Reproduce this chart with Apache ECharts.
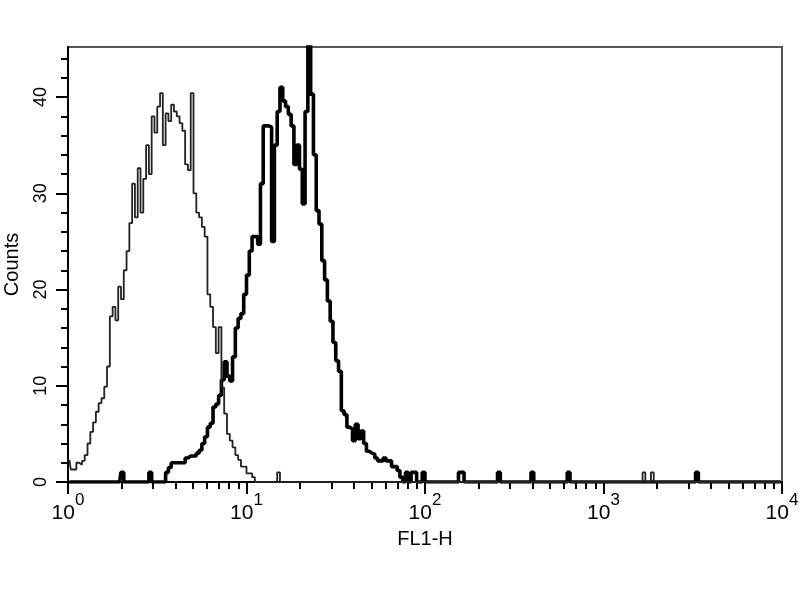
<!DOCTYPE html>
<html>
<head>
<meta charset="utf-8">
<script src="https://cdn.jsdelivr.net/npm/echarts@6/dist/echarts.min.js"></script>
<style>
html,body{margin:0;padding:0;background:#fff;}
#chart{width:800px;height:600px;}
</style>
</head>
<body>
<div id="chart"></div>
<script>
// ---- data (FL1-H histogram, 64 channels per decade, 4 decades) ----
const binsPerDecade = 64;
const nChannels = 256;
const xTickValues = [1, 10, 100, 1000, 10000];
const yTickValues = [0, 10, 20, 30, 40];
const xAxisName = 'FL1-H';
const yAxisName = 'Counts';

// thin curve (control), channels 0..66
const isoCounts = [
  2.3, 1.3, 1.3, 2.0, 1.8, 2.2, 2.8, 4.0, 5.2, 6.2,
  7.3, 8.2, 8.7, 9.9, 12.0, 17.2, 18.2, 16.8, 20.3, 19.0,
  22.0, 24.0, 26.9, 31.0, 27.5, 32.6, 28.0, 31.5, 35.0, 32.0,
  38.0, 36.3, 39.0, 40.4, 35.0, 38.3, 37.5, 39.2, 38.5, 38.0,
  37.3, 36.5, 33.0, 32.4, 40.4, 30.0, 28.0, 27.5, 26.5, 25.5,
  19.5, 18.2, 16.1, 13.4, 16.1, 9.8, 7.1, 5.0, 4.3, 3.6,
  2.8, 2.3, 1.6, 1.6, 0.9, 0.9, 0.5
];
const isoEvents = [[75, 1], [206, 1], [209, 1]];

// thick curve (stained), channels 35..119
const abStartChannel = 35;
const abCounts = [
  1.0, 1.5, 2.0, 2.0, 2.0, 2.0, 2.0, 2.5, 2.7, 2.7,
  2.7, 3.0, 3.3, 4.0, 4.7, 5.7, 6.1, 7.8, 8.1, 9.0,
  10.6, 12.5, 11.0, 10.5, 13.0, 16.0, 17.0, 17.5, 19.5, 21.5,
  24.0, 25.5, 25.5, 24.7, 31.0, 37.0, 37.0, 36.9, 25.0, 35.0,
  38.5, 41.0, 39.6, 39.0, 38.2, 37.0, 33.0, 35.0, 32.5, 28.9,
  38.5, 46.0, 40.3, 34.0, 28.2, 26.8, 23.0, 21.0, 18.8, 16.7,
  14.5, 12.6, 11.5, 7.4, 7.0, 5.7, 5.5, 4.3, 6.0, 4.5,
  5.3, 4.0, 3.2, 3.0, 2.9, 2.5, 2.2, 2.2, 2.5, 2.2,
  2.2, 1.6, 1.6, 1.2, 0.5
];
const abEvents = [[19, 1], [29, 1], [121, 1], [123, 1], [124, 1], [127, 1],
  [140, 1], [141, 1], [154, 1], [166, 1], [179, 1], [225, 1]];

// ---- build series data from the arrays ----
function channelValue(ch) { return Math.pow(10, (ch + 0.5) / binsPerDecade); }
function buildSeries(startCh, counts, events) {
  const arr = new Array(nChannels).fill(0);
  counts.forEach((c, i) => { arr[startCh + i] = c; });
  events.forEach(e => { arr[e[0]] = e[1]; });
  return arr.map((c, ch) => [channelValue(ch), c]);
}
const isoData = buildSeries(0, isoCounts, isoEvents);
const abData = buildSeries(abStartChannel, abCounts, abEvents);

// minor tick positions (axis decoration)
const xMinorTicks = [];
for (let d = 0; d < 4; d++) for (let k = 2; k <= 9; k++) xMinorTicks.push(k * Math.pow(10, d));
const yMinorTicks = [];
for (let v = 2; v <= 44; v += 2) if (v % 10 !== 0) yMinorTicks.push(v);

const FONT = "'Liberation Sans', Arial, Helvetica, sans-serif";
const chart = echarts.init(document.getElementById('chart'), null, {renderer: 'canvas'});

const yMax = 45.2;
chart.setOption({
  animation: false,
  backgroundColor: '#fff',
  grid: {left: 68, right: 18, top: 47, bottom: 118, containLabel: false, outerBoundsMode: 'none',
    show: true, borderColor: '#555', borderWidth: 2, backgroundColor: 'transparent'},
  xAxis: [{
    type: 'log', logBase: 10, min: 1, max: 10000,
    name: xAxisName, nameLocation: 'middle', nameGap: 47, nameMoveOverlap: false,
    nameTextStyle: {fontFamily: FONT, fontSize: 20, color: '#000'},
    axisLine: {show: true, onZero: false, lineStyle: {color: '#000', width: 2}},
    axisTick: {show: true, length: 12, customValues: xTickValues, lineStyle: {color: '#000', width: 2}},
    axisLabel: {
      show: true, margin: 10, customValues: xTickValues,
      formatter: function (v) { return '{b|10}{s|' + Math.round(Math.log10(v)) + '}'; },
      rich: {
        b: {fontFamily: FONT, fontSize: 21, color: '#000', verticalAlign: 'bottom', lineHeight: 32},
        s: {fontFamily: FONT, fontSize: 17, color: '#000', verticalAlign: 'top', lineHeight: 17}
      }
    },
    splitLine: {show: false}
  }, {
    type: 'log', logBase: 10, min: 1, max: 10000, gridIndex: 0, position: 'bottom',
    axisLine: {show: false, onZero: false},
    axisTick: {show: true, length: 7, customValues: xMinorTicks, lineStyle: {color: '#000', width: 2}},
    axisLabel: {show: false},
    splitLine: {show: false}
  }],
  yAxis: [{
    type: 'value', min: 0, max: yMax,
    name: yAxisName, nameLocation: 'middle', nameGap: 46, nameRotate: 90,
    nameTextStyle: {fontFamily: FONT, fontSize: 20, color: '#000'},
    axisLine: {show: true, onZero: false, lineStyle: {color: '#000', width: 2}},
    axisTick: {show: true, length: 12, customValues: yTickValues, lineStyle: {color: '#000', width: 2}},
    axisLabel: {show: true, rotate: 90, margin: 18, customValues: yTickValues, fontFamily: FONT, fontSize: 18, color: '#000'},
    splitLine: {show: false}
  }, {
    type: 'value', min: 0, max: yMax, position: 'left',
    axisLine: {show: false, onZero: false},
    axisTick: {show: true, length: 7, customValues: yMinorTicks, lineStyle: {color: '#000', width: 2}},
    axisLabel: {show: false},
    splitLine: {show: false}
  }],
  series: [{
    type: 'line', name: 'stained', data: abData, step: 'middle', showSymbol: false, symbol: 'none',
    xAxisIndex: 0, yAxisIndex: 0, clip: true,
    lineStyle: {color: '#000', width: 3.6}, z: 3
  }, {
    type: 'line', name: 'control', data: isoData, step: 'middle', showSymbol: false, symbol: 'none',
    xAxisIndex: 0, yAxisIndex: 0, clip: true,
    lineStyle: {color: '#222', width: 1.8}, z: 4
  }]
});
</script>
</body>
</html>
